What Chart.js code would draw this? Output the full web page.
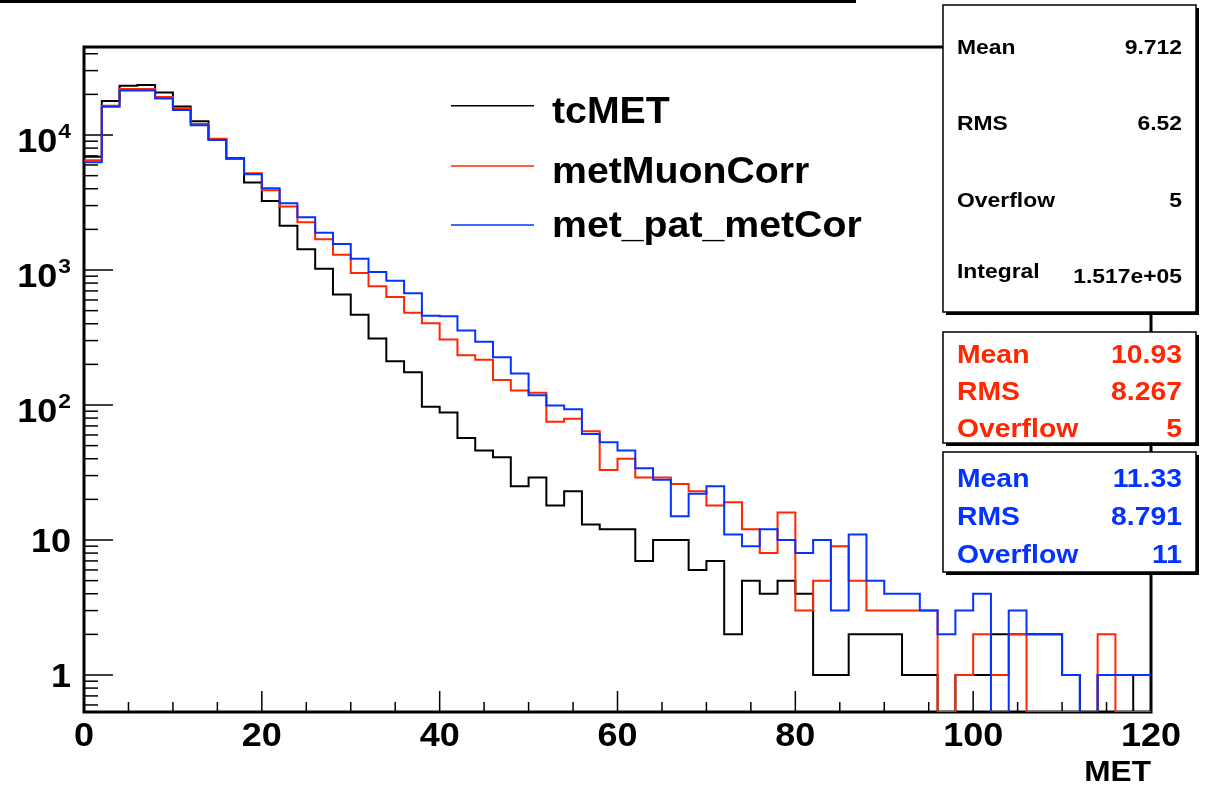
<!DOCTYPE html>
<html>
<head>
<meta charset="utf-8">
<script src="https://cdn.jsdelivr.net/npm/chart.js@4.4.1/dist/chart.umd.min.js"></script>
<style>
  html, body { margin: 0; padding: 0; background: #fff; }
  canvas { display: block; }
</style>
</head>
<body>
<canvas id="c" width="1214" height="786" style="width:1214px;height:786px"></canvas>
<script>
// histogram bins (low edges, width 2), last edge = 120
const binLow = [0, 2, 4, 6, 8, 10, 12, 14, 16, 18, 20, 22, 24, 26, 28, 30, 32, 34, 36, 38,
  40, 42, 44, 46, 48, 50, 52, 54, 56, 58, 60, 62, 64, 66, 68, 70, 72, 74, 76, 78,
  80, 82, 84, 86, 88, 90, 92, 94, 96, 98, 100, 102, 104, 106, 108, 110, 112, 114, 116, 118];
const binHigh = 120;

// entries per bin
const tcMET = [6890, 17830, 23170, 23430, 20660, 16240, 12650, 9290, 6720, 4446,
  3240, 2130, 1423, 1022, 658, 467, 311, 211, 175, 97,
  88, 57, 46, 41, 25, 29, 18, 23, 13, 12,
  12, 7, 10, 10, 6, 7, 2, 5, 4, 5,
  4, 1, 1, 2, 2, 2, 1, 1, 0, 1,
  1, 2, 2, 2, 2, 1, 0, 1, 1, 0];
const metMuonCorr = [6510, 16500, 21900, 21900, 19100, 15800, 12080, 9380, 6650, 5210,
  3893, 2958, 2261, 1690, 1300, 949, 759, 632, 483, 403,
  306, 234, 216, 153, 128, 123, 75, 79, 64, 33,
  40, 29, 29, 26, 23, 18, 19, 12, 8, 16,
  3, 5, 9, 5, 3, 3, 3, 3, 0, 1,
  2, 1, 2, 0, 0, 0, 0, 2, 0, 0];
const metPatMetCor = [6295, 16200, 21360, 21360, 18640, 15350, 11810, 9180, 6700, 5125,
  4029, 3116, 2464, 1885, 1560, 1213, 966, 832, 673, 459,
  454, 357, 294, 226, 171, 118, 99, 93, 61, 53,
  46, 34, 28, 15, 22, 25, 11, 9, 12, 10,
  8, 10, 3, 11, 5, 4, 4, 3, 2, 3,
  4, 0, 3, 2, 2, 1, 0, 1, 1, 1];

const seriesNames = ['tcMET', 'metMuonCorr', 'met_pat_metCor'];
const seriesColors = ['#000000', '#ff2600', '#0433ff'];

// axes
const X_MIN = 0, X_MAX = 120;
const Y_MIN = 0.532, Y_MAX = 44870;
const xTickValues = [0, 5, 10, 15, 20, 25, 30, 35, 40, 45, 50, 55, 60, 65, 70, 75, 80, 85, 90, 95, 100, 105, 110, 115, 120];
const xLabelValues = [0, 20, 40, 60, 80, 100, 120];
const yMantissas = [1, 2, 3, 4, 5, 6, 7, 8, 9];
const yDecades = [0.1, 1, 10, 100, 1000, 10000];
const yLabelValues = [1, 10, 100, 1000, 10000];
const yLabelBase = ['1', '10', '10', '10', '10'];
const yLabelExp = ['', '', '2', '3', '4'];
const xTitle = 'MET';

// stat boxes
const statsBlack = [['Mean', '9.712'], ['RMS', '6.52'], ['Overflow', '5'], ['Integral', '1.517e+05']];
const statsRed = [['Mean', '10.93'], ['RMS', '8.267'], ['Overflow', '5']];
const statsBlue = [['Mean', '11.33'], ['RMS', '8.791'], ['Overflow', '11']];

const FONT = '"Liberation Sans", Arial, Helvetica, sans-serif';
const SX = 1.09; // the reference text is a bit wider than Helvetica

function histPoints(values) {
  // zero bins sit on the floor of the log axis, as ROOT draws them
  const pts = binLow.map((x, i) => ({ x: x, y: values[i] > 0 ? values[i] : Y_MIN }));
  pts.push({ x: binHigh, y: pts[pts.length - 1].y });
  return pts;
}

function text(ctx, s, x, y, align, size, color) {
  ctx.save();
  ctx.font = 'bold ' + size + 'px ' + FONT;
  ctx.fillStyle = color;
  ctx.textAlign = align;
  ctx.textBaseline = 'alphabetic';
  ctx.translate(x, y);
  ctx.scale(SX, 1);
  ctx.fillText(s, 0, 0);
  ctx.restore();
}

function textWidth(ctx, s, size) {
  ctx.save();
  ctx.font = 'bold ' + size + 'px ' + FONT;
  const w = ctx.measureText(s).width * SX;
  ctx.restore();
  return w;
}

function statBox(ctx, x, y, w, h, rows, color, size, baselines) {
  ctx.save();
  ctx.fillStyle = '#000';
  ctx.fillRect(x + 3, y + 3, w, h);       // shadow
  ctx.fillStyle = '#fff';
  ctx.fillRect(x, y, w, h);
  ctx.strokeStyle = '#000';
  ctx.lineWidth = 1.5;
  ctx.strokeRect(x, y, w, h);
  ctx.restore();
  rows.forEach((r, i) => {
    text(ctx, r[0], x + 14, baselines[i][0], 'left', size[0], color);
    text(ctx, r[1], x + w - 14, baselines[i][1], 'right', size[1], color);
  });
}

const rootStyle = {
  id: 'rootStyle',
  beforeDatasetsDraw(chart) {
    const { ctx, chartArea: a, scales: { x, y } } = chart;
    ctx.save();
    ctx.fillStyle = '#000';
    ctx.fillRect(0, 0, 856, 3);   // bottom edge of the (cut off) title box
    ctx.strokeStyle = '#000';
    ctx.lineWidth = 3;
    ctx.strokeRect(a.left, a.top, a.right - a.left, a.bottom - a.top);
    ctx.lineWidth = 1.5;
    x.ticks.forEach(t => {
      const px = x.getPixelForValue(t.value);
      const len = xLabelValues.includes(t.value) ? 21 : 10;
      ctx.beginPath(); ctx.moveTo(px, a.bottom); ctx.lineTo(px, a.bottom - len); ctx.stroke();
    });
    y.ticks.forEach(t => {
      const py = y.getPixelForValue(t.value);
      const len = yLabelValues.includes(t.value) ? 29 : 14;
      ctx.beginPath(); ctx.moveTo(a.left, py); ctx.lineTo(a.left + len, py); ctx.stroke();
    });
    ctx.restore();
  },
  afterDraw(chart) {
    const { ctx, chartArea: a, scales: { x, y } } = chart;

    // x labels + title
    xLabelValues.forEach(v => text(ctx, String(v), x.getPixelForValue(v), a.bottom + 34, 'center', 33, '#000'));
    text(ctx, xTitle, a.right, 781, 'right', 29, '#000');

    // y labels, 10^n with a raised exponent
    yLabelValues.forEach((v, i) => {
      const py = y.getPixelForValue(v);
      const right = 71;
      if (yLabelExp[i]) {
        const we = textWidth(ctx, yLabelExp[i], 21);
        text(ctx, yLabelExp[i], right, py + 3, 'right', 21, '#000');
        text(ctx, yLabelBase[i], right - we - 1, py + 17, 'right', 33, '#000');
      } else {
        text(ctx, yLabelBase[i], right, py + 12, 'right', 33, '#000');
      }
    });

    // legend (no frame)
    const lineY = [105.7, 166, 225];
    const textY = [122.7, 183.3, 236.7];
    chart.data.datasets.forEach((ds, i) => {
      const k = seriesNames.indexOf(ds.label);
      ctx.save();
      ctx.strokeStyle = ds.borderColor;
      ctx.lineWidth = 1.5;
      ctx.beginPath(); ctx.moveTo(451, lineY[k]); ctx.lineTo(534, lineY[k]); ctx.stroke();
      ctx.restore();
      text(ctx, ds.label, 552, textY[k], 'left', 36, '#000');
    });

    // stat boxes
    statBox(ctx, 943, 5, 253, 307, statsBlack, '#000', [21, 21],
      [[54, 54], [130, 130], [207, 207], [278, 283]]);
    statBox(ctx, 943, 332, 253, 111, statsRed, seriesColors[1], [26, 26],
      [[363, 363], [400, 400], [437, 437]]);
    statBox(ctx, 943, 452, 253, 120, statsBlue, seriesColors[2], [26, 26],
      [[487, 487], [525, 525], [563, 563]]);
  }
};

const series = [tcMET, metMuonCorr, metPatMetCor];
const datasets = series.map((vals, i) => ({
  label: seriesNames[i],
  data: histPoints(vals),
  borderColor: seriesColors[i],
  borderWidth: 2,
  pointRadius: 0,
  stepped: 'before',
  fill: false,
  order: 3 - i   // blue on top, then red, then black
}));

new Chart(document.getElementById('c'), {
  type: 'line',
  data: { datasets: datasets },
  options: {
    responsive: false,
    animation: false,
    events: [],
    layout: { padding: { top: 47, right: 63, left: 0, bottom: 0 } },
    plugins: { legend: { display: false }, tooltip: { enabled: false } },
    scales: {
      x: {
        type: 'linear', min: X_MIN, max: X_MAX, bounds: 'data',
        grid: { display: false }, border: { display: false },
        ticks: { display: false },
        afterBuildTicks: s => { s.ticks = xTickValues.map(v => ({ value: v })); },
        afterFit: s => { s.height = 74; }
      },
      y: {
        type: 'logarithmic', min: Y_MIN, max: Y_MAX, bounds: 'data',
        grid: { display: false }, border: { display: false },
        ticks: { display: false },
        afterBuildTicks: s => {
          const vals = [];
          yDecades.forEach(d => yMantissas.forEach(m => {
            const v = Math.round(m * d * 10) / 10;
            if (v >= s.min && v <= s.max) vals.push(v);
          }));
          s.ticks = vals.map(v => ({ value: v }));
        },
        afterFit: s => { s.width = 84; }
      }
    }
  },
  plugins: [rootStyle]
});
</script>
</body>
</html>
